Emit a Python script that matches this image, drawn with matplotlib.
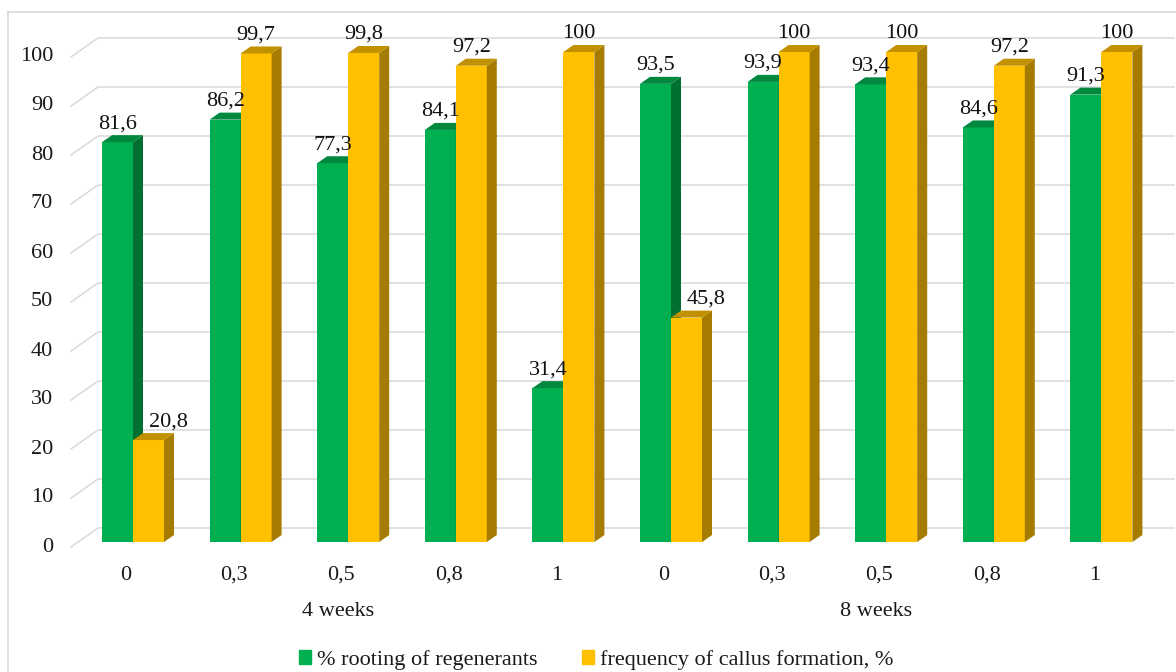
import matplotlib
matplotlib.use("Agg")
import matplotlib.pyplot as plt
from matplotlib.patches import Polygon
from matplotlib.lines import Line2D
from matplotlib.transforms import IdentityTransform
import numpy as np

categories = ["0", "0,3", "0,5", "0,8", "1", "0", "0,3", "0,5", "0,8", "1"]
groups = ["4 weeks", "8 weeks"]
group_sizes = [5, 5]
rooting = [81.6, 86.2, 77.3, 84.1, 31.4, 93.5, 93.9, 93.4, 84.6, 91.3]
callus = [20.8, 99.7, 99.8, 97.2, 100, 45.8, 100, 100, 97.2, 100]
rooting_labels = ["81,6", "86,2", "77,3", "84,1", "31,4", "93,5", "93,9", "93,4", "84,6", "91,3"]
callus_labels = ["20,8", "99,7", "99,8", "97,2", "100", "45,8", "100", "100", "97,2", "100"]
series_names = ["% rooting of regenerants", "frequency of callus formation, %"]
yticks = list(range(0, 101, 10))

W, H = 1176, 672
DPI = 100
plt.rcParams['font.family'] = ['Liberation Serif', 'DejaVu Serif']
FS = 16

fig = plt.figure(figsize=(W / DPI, H / DPI), dpi=DPI)

# pixel layout (from top-left)
px_left, px_right = 71, 1174
px_top, px_bottom = 30, 552
x0_px, dx_px = 133.0, 107.6       # category boundary position and spacing
y0_px, dy_px = 542.0, 4.9         # value 0 pixel, pixels per unit

xl = ((px_left - x0_px) / dx_px, (px_right - x0_px) / dx_px)
yl = ((y0_px - px_bottom) / dy_px, (y0_px - px_top) / dy_px)

ax = fig.add_axes([px_left / W, 1 - px_bottom / H, (px_right - px_left) / W, (px_bottom - px_top) / H])
ax.set_xlim(*xl)
ax.set_ylim(*yl)
ax.axis("off")

# figure border
fig.add_artist(Line2D([8 / W, 8 / W], [0, 1 - 12 / H], transform=fig.transFigure, color="#D9D9D9", lw=1.2))
fig.add_artist(Line2D([8 / W, 1.0], [1 - 12 / H, 1 - 12 / H], transform=fig.transFigure, color="#D9D9D9", lw=1.2))

ident = IdentityTransform()


def disp(x, y):
    return ax.transData.transform((x, y))


# depth offsets in pixels (display coords, y up)
front = np.array([-7.0, -5.0])
back = np.array([20.0, 14.0])
side = np.array([10.0, 7.0])

grid_color = "#D9D9D9"
x_start = xl[0] + 7.0 / dx_px
for v in yticks:
    p = disp(x_start, v)
    a = p + front
    b = p + back
    c = np.array([disp(xl[1], v)[0], b[1]])
    ax.add_line(Line2D([a[0], b[0], c[0]], [a[1], b[1], c[1]], transform=ident,
                       color=grid_color, lw=1.1, zorder=0, clip_on=False))
    ax.text(53, a[1], str(v), transform=ident, ha="right", va="center", fontsize=FS,
            color="#1a1a1a")

w = 31.0 / dx_px
x = np.arange(len(categories))

colors = {
    0: ("#00B050", "#00893E", "#006F31"),
    1: ("#FFC000", "#C29100", "#A57B00"),
}


def draw_bar(xl_, xr_, v, cols, z):
    fc, tc, sc = cols
    ax.bar((xl_ + xr_) / 2, v, width=xr_ - xl_, color=fc, zorder=z, linewidth=0)
    br = disp(xr_, 0); tl = disp(xl_, v); tr = disp(xr_, v)
    sidepoly = [br, tr, tr + side, br + side]
    toppoly = [tl, tr, tr + side, tl + side]
    ax.add_patch(Polygon(sidepoly, closed=True, transform=ident, facecolor=sc, edgecolor="none", zorder=z, clip_on=False))
    ax.add_patch(Polygon(toppoly, closed=True, transform=ident, facecolor=tc, edgecolor="none", zorder=z, clip_on=False))


for i in x:
    draw_bar(i - w, i, rooting[i], colors[0], 2 + 2 * i)
    draw_bar(i, i + w, callus[i], colors[1], 3 + 2 * i)

# data labels
for i in x:
    p = disp(i - w / 2, rooting[i])
    ax.text(p[0], p[1] + 14, rooting_labels[i], transform=ident, ha="center", va="baseline",
            fontsize=FS, color="#111111", zorder=50)
    extra = 20 if callus[i] < rooting[i] - 30 else 0
    p = disp(i + w / 2, callus[i])
    ax.text(p[0] + extra, p[1] + 14, callus_labels[i], transform=ident, ha="center", va="baseline",
            fontsize=FS, color="#111111", zorder=50)

# category labels
for i, c in enumerate(categories):
    p = disp(i, 0)
    ax.text(p[0] - 7, H - 575, c, transform=ident, ha="center", va="center", fontsize=FS, color="#1a1a1a")

start = 0
for g, n in zip(groups, group_sizes):
    xm = np.mean(np.arange(start, start + n))
    p = disp(xm, 0)
    ax.text(p[0] - 10, H - 612, g, transform=ident, ha="center", va="center", fontsize=FS, color="#1a1a1a")
    start += n

handles = [plt.Rectangle((0, 0), 1, 1, color=colors[0][0]), plt.Rectangle((0, 0), 1, 1, color=colors[1][0])]
fig.legend(handles, series_names, loc="center", bbox_to_anchor=(596 / W, 1 - 660 / H), ncol=2,
           frameon=False, fontsize=FS, handlelength=0.55, handleheight=0.55, handletextpad=0.25,
           columnspacing=2.0, labelcolor="#1a1a1a")

fig.savefig("out.png", dpi=DPI)
